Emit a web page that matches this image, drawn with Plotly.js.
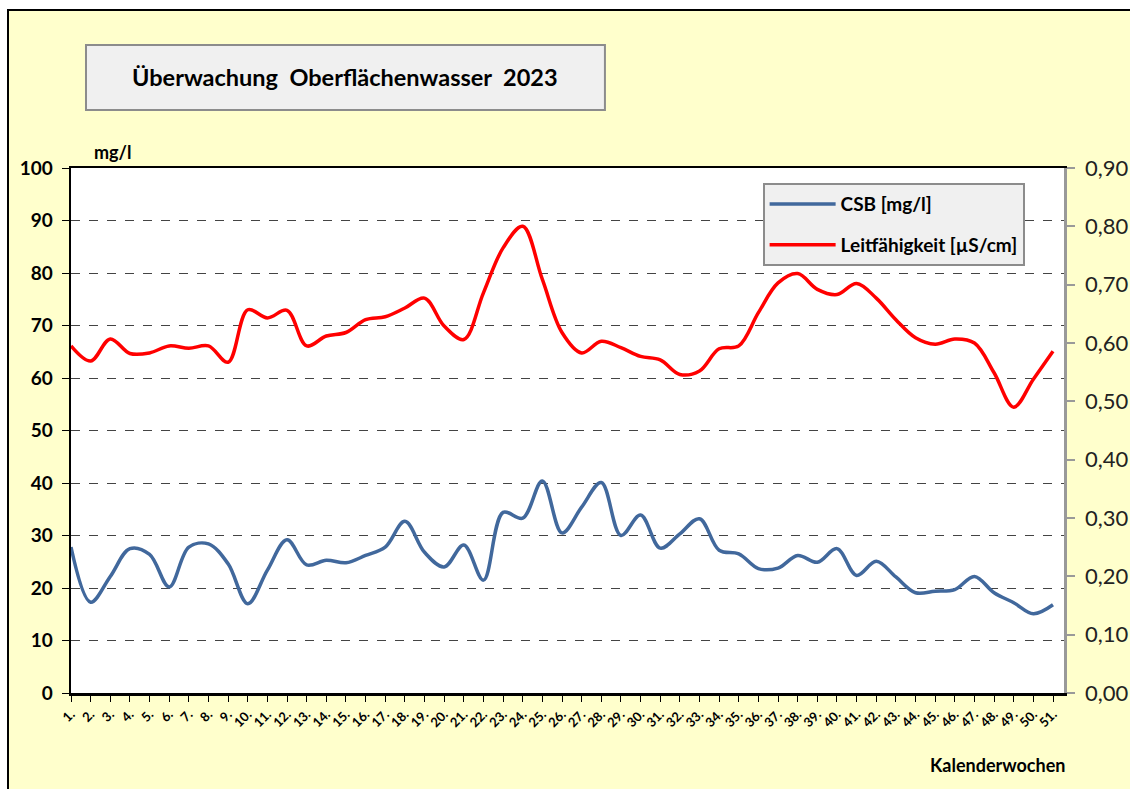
<!DOCTYPE html>
<html>
<head>
<meta charset="utf-8">
<script src="https://cdn.plot.ly/plotly-3.0.1.min.js"></script>
<style>
  html, body { margin: 0; padding: 0; background: #fff; overflow: hidden; }
  #frame { position: absolute; left: 7px; top: 9px; border-left: 2px solid #000; border-top: 2px solid #000; }
  #plot { width: 1121px; height: 778px; }
</style>
</head>
<body>
<div id="frame"><div id="plot"></div></div>
<script>
// Kalenderwochen 1..51
const weeks = [1,2,3,4,5,6,7,8,9,10,11,12,13,14,15,16,17,18,19,20,21,22,23,24,25,26,
               27,28,29,30,31,32,33,34,35,36,37,38,39,40,41,42,43,44,45,46,47,48,49,50,51];
const weekLabels = weeks.map(w => w + '.');

// CSB [mg/l] - linke Achse
const csb = [27.8,17.3,22.2,27.5,26.4,20.2,27.8,28.4,24.6,17.0,23.4,29.2,24.4,25.3,24.8,26.2,27.8,32.7,26.8,24.0,
             28.2,21.5,34.4,33.3,40.4,30.5,35.4,40.1,30.0,33.9,27.6,30.3,33.2,27.2,26.5,23.7,23.8,26.2,24.9,27.5,
             22.4,25.1,22.1,19.1,19.4,19.7,22.2,19.1,17.2,15.1,16.8];

// Leitfähigkeit - rechte Achse
const leit = [0.595,0.569,0.607,0.582,0.583,0.595,0.591,0.595,0.567,0.657,0.643,0.656,0.595,0.612,0.618,0.640,0.645,0.660,0.677,0.629,
              0.606,0.686,0.763,0.800,0.709,0.618,0.583,0.603,0.592,0.577,0.571,0.546,0.552,0.590,0.595,0.652,0.703,0.719,0.692,0.683,
              0.702,0.677,0.640,0.609,0.598,0.607,0.600,0.549,0.490,0.538,0.586];

const FONT = 'Lato, "Open Sans", sans-serif';

const traces = [
  {
    x: weeks, y: csb, type: 'scatter', mode: 'lines', name: '<b>CSB [mg/l]</b>',
    line: { color: '#41689C', width: 3.5, shape: 'spline', smoothing: 1 },
    legendgroup: 'a'
  },
  {
    x: weeks, y: leit, type: 'scatter', mode: 'lines', name: '<b>Leitfähigkeit [µS/cm]</b>',
    yaxis: 'y2',
    line: { color: '#FF0000', width: 3.5, shape: 'spline', smoothing: 1 },
    legendgroup: 'b'
  }
];

const layout = {
  width: 1121, height: 778,
  margin: { l: 62, r: 66, t: 157, b: 96 },
  paper_bgcolor: '#FFFFCC',
  plot_bgcolor: '#FFFFFF',
  separators: ',.',
  font: { family: FONT, color: '#000' },
  showlegend: true,
  legend: {
    x: 0.6965, y: 0.971, xanchor: 'left', yanchor: 'top',
    bgcolor: '#F0F0F0', bordercolor: '#8C8C8C', borderwidth: 2,
    font: { family: FONT, size: 19, color: '#000' },
    itemwidth: 66,
    traceorder: 'grouped', tracegroupgap: 13
  },
  xaxis: {
    range: [1, 51.56],
    tickvals: weeks, ticktext: weekLabels,
    tickangle: -45,
    tickfont: { family: FONT, size: 13, color: '#000', weight: 'bold' },
    ticks: 'outside', ticklen: 6, tickcolor: '#000', tickwidth: 1,
    showline: true, linecolor: '#000', linewidth: 2.5, mirror: true,
    showgrid: false, zeroline: false, fixedrange: true
  },
  yaxis: {
    range: [0, 100], tickvals: [0,10,20,30,40,50,60,70,80,90,100],
    tickfont: { family: FONT, size: 19, color: '#000', weight: 'bold' },
    ticks: 'outside', ticklen: 7, tickcolor: '#000', tickwidth: 1,
    ticklabelstandoff: 5,
    showline: true, linecolor: '#000', linewidth: 2.5,
    showgrid: true, gridcolor: '#444', griddash: 'dash', gridwidth: 1,
    zeroline: false, fixedrange: true
  },
  yaxis2: {
    overlaying: 'y', side: 'right',
    range: [0, 0.9], tickvals: [0,0.1,0.2,0.3,0.4,0.5,0.6,0.7,0.8,0.9],
    tickformat: '.2f',
    tickfont: { family: FONT, size: 22, color: '#222' },
    ticks: 'outside', ticklen: 8, tickcolor: '#999', tickwidth: 2,
    ticklabelstandoff: 6,
    showline: true, linecolor: '#999', linewidth: 2.5,
    showgrid: false, zeroline: false, fixedrange: true
  },
  shapes: [
    { type: 'rect', xref: 'paper', yref: 'paper', x0: 0.0151, x1: 0.5377, y0: 1.1105, y1: 1.2343,
      fillcolor: '#F0F0F0', line: { color: '#8C8C8C', width: 2 }, layer: 'below' }
  ],
  annotations: [
    { xref: 'paper', yref: 'paper', x: 0.2764, y: 1.1724, xanchor: 'center', yanchor: 'middle',
      text: '<b>Überwachung\u00a0 Oberflächenwasser\u00a0 2023</b>', showarrow: false,
      font: { family: FONT, size: 23.5, color: '#000' } },
    { xref: 'paper', yref: 'paper', x: 0.021, y: 1.0305, xanchor: 'left', yanchor: 'middle',
      text: '<b>mg/l</b>', showarrow: false, font: { family: FONT, size: 18, color: '#000' } },
    { xref: 'paper', yref: 'paper', x: 1.003, y: -0.138, xanchor: 'right', yanchor: 'middle',
      text: '<b>Kalenderwochen</b>', showarrow: false, font: { family: FONT, size: 18, color: '#000' } }
  ]
};

Plotly.newPlot('plot', traces, layout, { staticPlot: true, displayModeBar: false });
</script>
</body>
</html>
